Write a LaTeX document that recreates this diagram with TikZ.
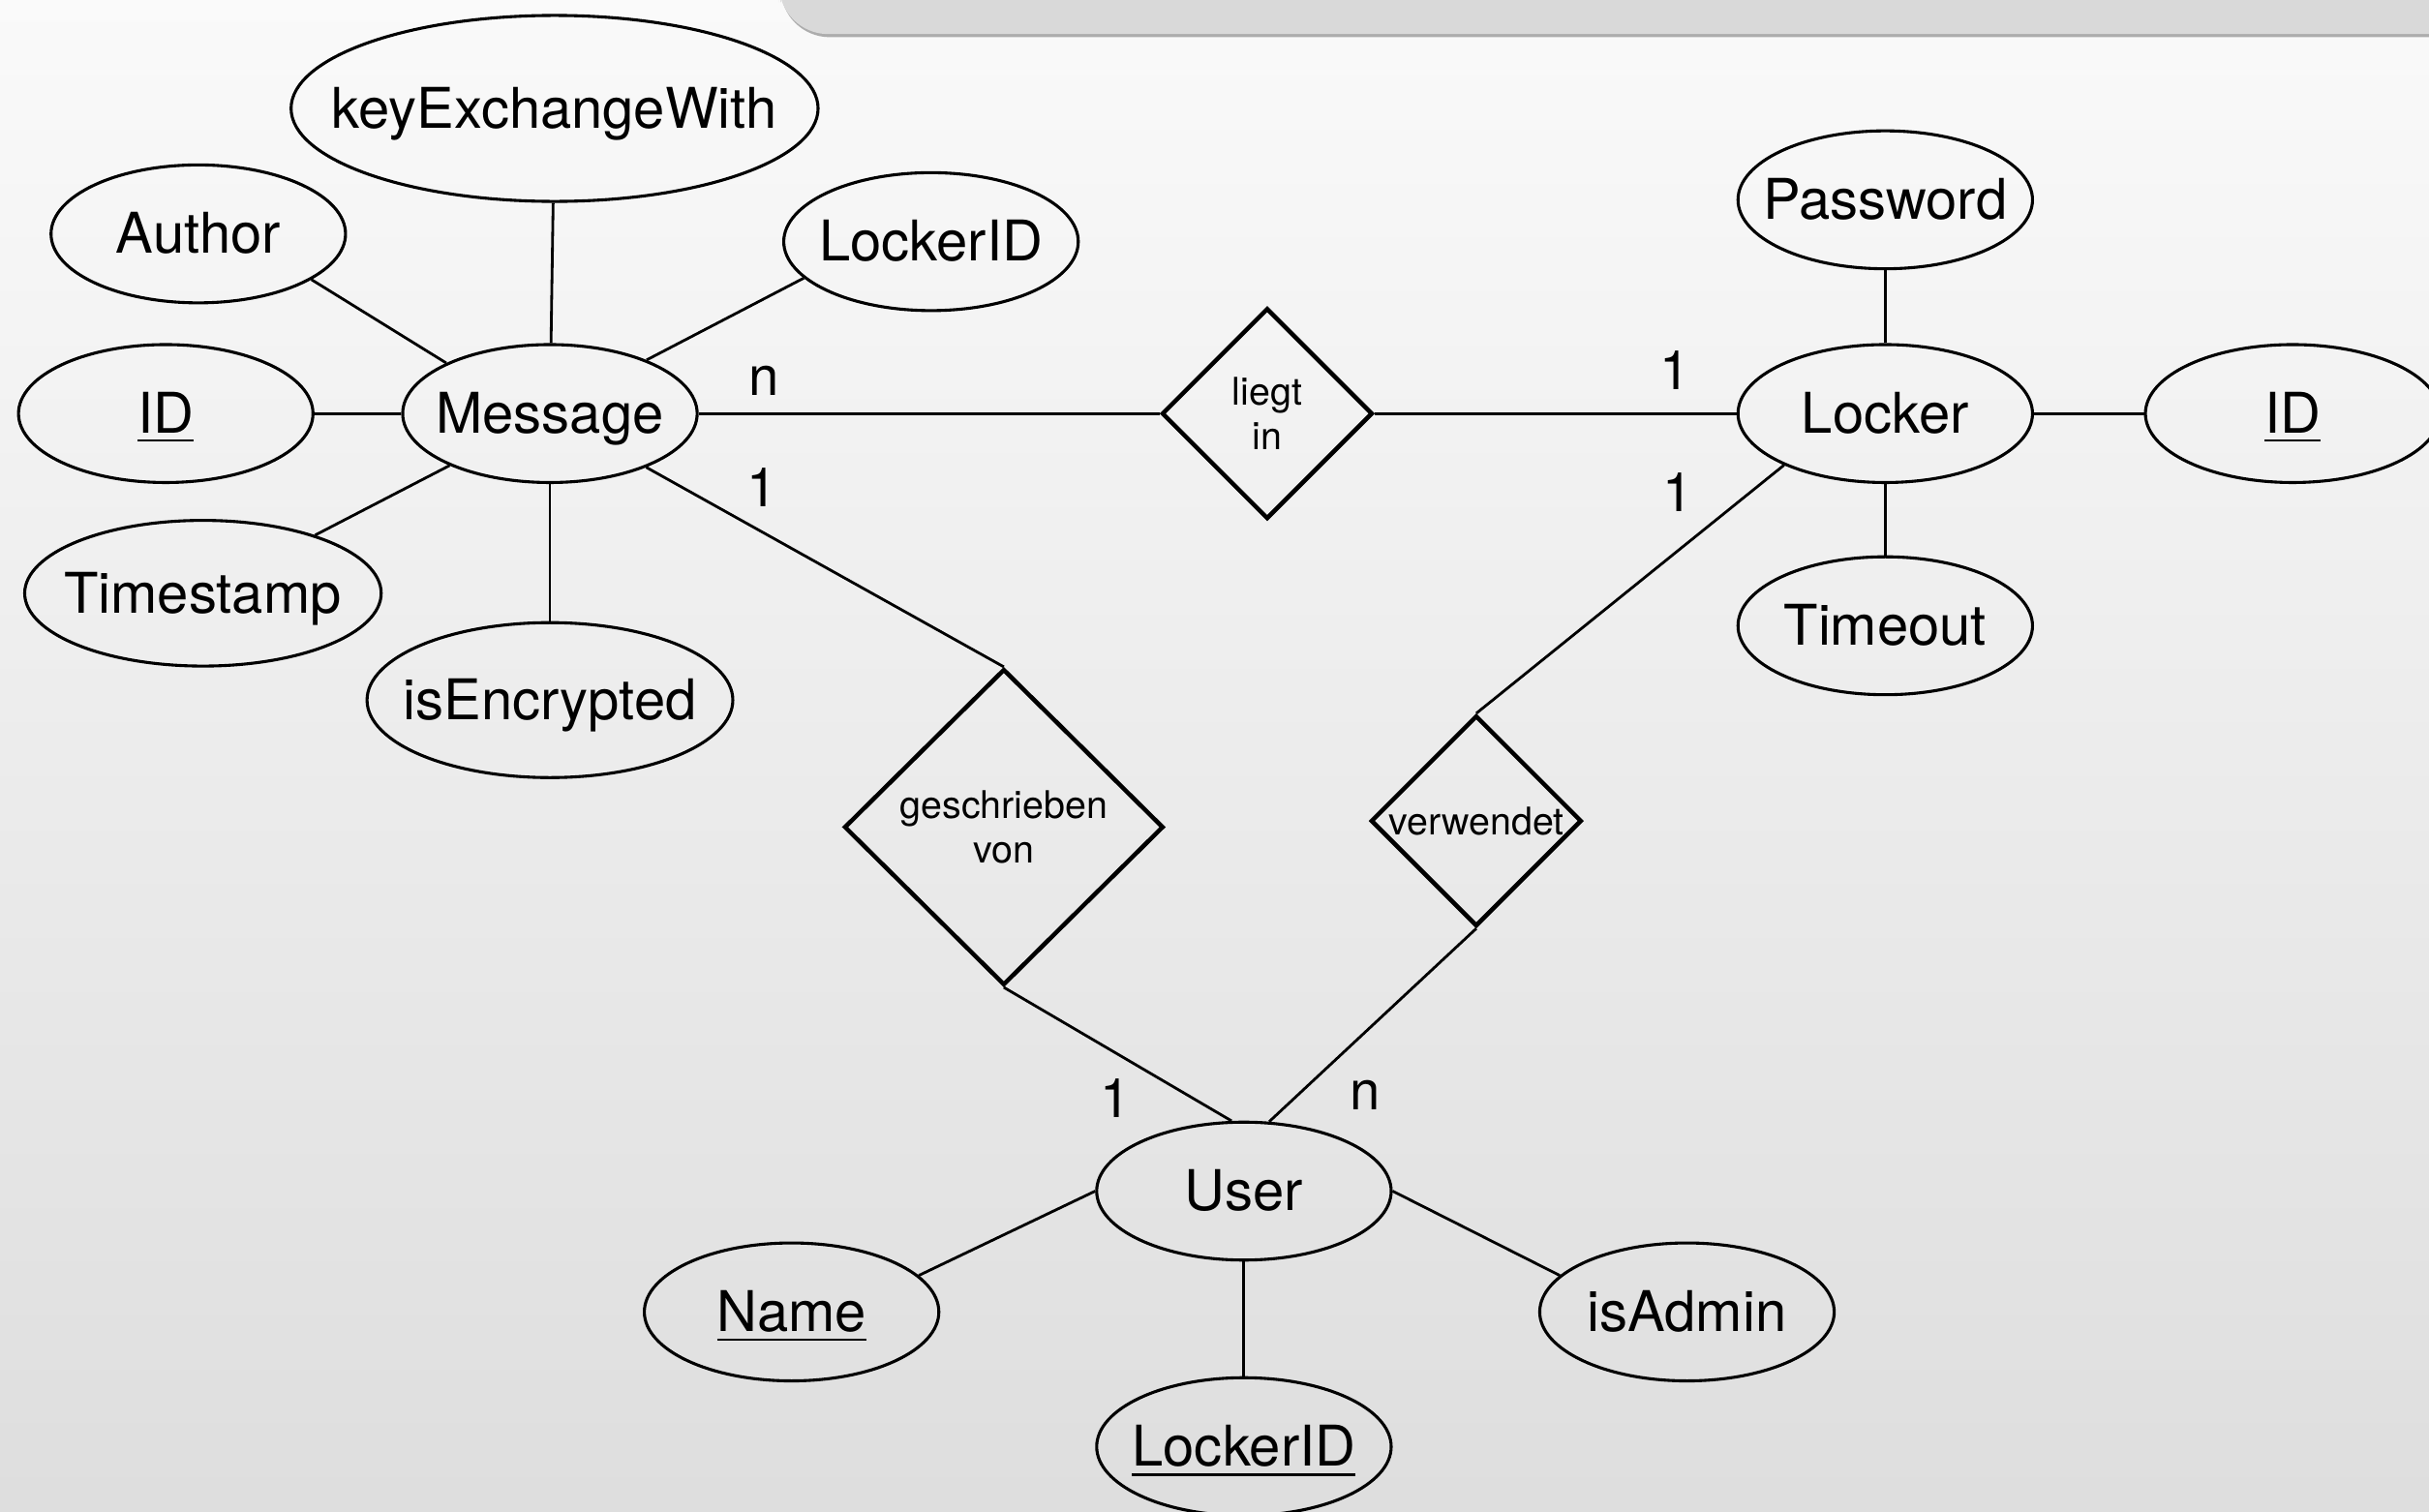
\documentclass[tikz,border=0pt]{standalone}
\usepackage{fontspec}
\setmainfont{TeX Gyre Heros}
\usetikzlibrary{shapes.geometric}

\tikzstyle{attr_node} = [ellipse, draw=black, line width=0.55pt, inner xsep=-8pt, inner ysep=0pt, text height=0.72em, text depth=0pt, minimum width=1.9cm, minimum height=0.89cm, font=\fontsize{10.3}{12}\selectfont]
\tikzstyle{rel_node} = [diamond, aspect=1, draw=black, line width=0.8pt, inner sep=0pt, minimum width=1.36cm, minimum height=1.36cm, align=center, font=\fontsize{7}{8.3}\selectfont]
\tikzstyle{card_label} = [inner sep=0pt, font=\fontsize{10}{12}\selectfont]
\tikzstyle{link} = [line width=0.5pt]

\begin{document}
\begin{tikzpicture}[x=0.01cm, y=-0.01cm]
    \useasboundingbox (0,0) rectangle (1568,976);
    \shade [top color=black!2, bottom color=black!13] (0,0) rectangle (1568,976);
    \fill [black!32, rounded corners=9pt] (504,-30) rectangle (1600,24);
    \fill [black!15, rounded corners=9pt] (503,-30) rectangle (1600,22);

    \node (msg)     [attr_node] at (355,267) {Message};
    \node (kex)     [attr_node, minimum width=3.4cm, minimum height=1.2cm] at (358,70) {keyExchangeWith};
    \node (author)  [attr_node] at (128,151) {Author};
    \node (msg_lid) [attr_node] at (601,156) {LockerID};
    \node (msg_id)  [attr_node] at (107,267) {\underline{ID}};
    \node (tstamp)  [attr_node, minimum width=2.3cm, minimum height=0.94cm] at (131,383) {Timestamp};
    \node (isenc)   [attr_node, minimum width=2.36cm, minimum height=1cm] at (355,452) {isEncrypted};

    \node (locker)    [attr_node] at (1217,267) {Locker};
    \node (pwd)       [attr_node] at (1217,129) {Password};
    \node (timeout)   [attr_node] at (1217,404) {Timeout};
    \node (locker_id) [attr_node] at (1480,267) {\underline{ID}};

    \node (user)     [attr_node] at (803,769) {User};
    \node (name)     [attr_node] at (511,847) {\underline{Name}};
    \node (isadmin)  [attr_node] at (1089,847) {isAdmin};
    \node (user_lid) [attr_node] at (803,934) {\underline{LockerID}};

    \node (liegt)   [rel_node] at (818,267) {liegt\\in};
    \node (written) [rel_node, minimum width=2.06cm, minimum height=2.04cm] at (648,534) {geschrieben\\von};
    \node (uses)    [rel_node] at (953,530) {verwendet};

    \draw [link] (msg) -- (kex);
    \draw [link] (msg.154) -- (author.-22);
    \draw [link] (msg.29) -- (msg_lid.196);
    \draw [link] (msg) -- (msg_id);
    \draw [link] (msg) -- (tstamp);
    \draw [link] (msg) -- (isenc);

    \draw [link] (locker) -- (pwd);
    \draw [link] (locker) -- (timeout);
    \draw [link] (locker) -- (locker_id);

    \draw [link] (user.west) -- (name.16);
    \draw [link] (user.east) -- (isadmin.164);
    \draw [link] (user) -- (user_lid);

    \draw [link] (msg) -- (liegt);
    \draw [link] (liegt) -- (locker);
    \draw [link] (msg) -- (written.north);
    \draw [link] (written.south) -- (user.100);
    \draw [link] (locker.207) -- (uses.north);
    \draw [link] (uses.south) -- (user.70);

    \node (card_msg_liegt)    [card_label] at (493,246) {n};
    \node (card_msg_written)  [card_label] at (492,315) {1};
    \node (card_locker_liegt) [card_label] at (1081,239) {1};
    \node (card_locker_uses)  [card_label] at (1083,318) {1};
    \node (card_user_written) [card_label] at (720,709) {1};
    \node (card_user_uses)    [card_label] at (881,707) {n};
\end{tikzpicture}
\end{document}
